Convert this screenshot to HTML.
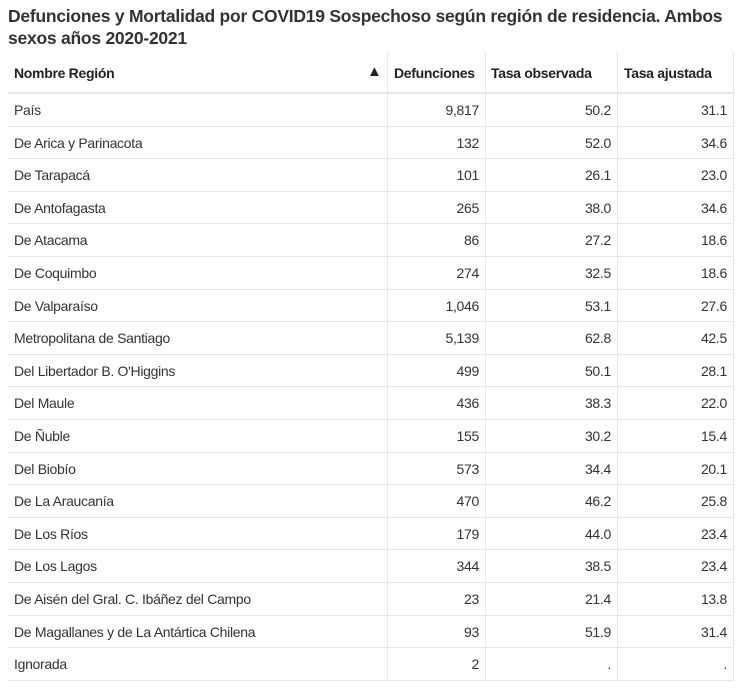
<!DOCTYPE html>
<html><head><meta charset="utf-8"><style>
body{margin:0;width:745px;height:695px;background:#fff;font-family:"Liberation Sans",sans-serif;color:#333;overflow:hidden;position:relative}
.t{position:absolute;left:8px;top:5px;font-size:17.5px;font-weight:bold;line-height:22px;color:#333;letter-spacing:-0.25px;width:730px}
.h,.c{position:absolute;font-size:14px;white-space:nowrap;letter-spacing:-0.3px}
.h{font-weight:bold;color:#222}
.r{text-align:right}
.ln{position:absolute;background:#e6e6e6}
</style></head><body>
<div class="t">Defunciones y Mortalidad por COVID19 Sospechoso según región de residencia. Ambos sexos años 2020-2021</div>
<div id="g"></div>
<script>
var rows=[["País","9,817","50.2","31.1"],["De Arica y Parinacota","132","52.0","34.6"],["De Tarapacá","101","26.1","23.0"],["De Antofagasta","265","38.0","34.6"],["De Atacama","86","27.2","18.6"],["De Coquimbo","274","32.5","18.6"],["De Valparaíso","1,046","53.1","27.6"],["Metropolitana de Santiago","5,139","62.8","42.5"],["Del Libertador B. O'Higgins","499","50.1","28.1"],["Del Maule","436","38.3","22.0"],["De Ñuble","155","30.2","15.4"],["Del Biobío","573","34.4","20.1"],["De La Araucanía","470","46.2","25.8"],["De Los Ríos","179","44.0","23.4"],["De Los Lagos","344","38.5","23.4"],["De Aisén del Gral. C. Ibáñez del Campo","23","21.4","13.8"],["De Magallanes y de La Antártica Chilena","93","51.9","31.4"],["Ignorada","2",".","."]];
var h='';
var top0=93,rh=32.6;
h+='<div class="ln" style="left:8px;top:92px;width:726px;height:2px"></div>';
[387,485,617,733].forEach(function(x){h+='<div class="ln" style="left:'+x+'px;top:52px;width:1px;height:629px"></div>';});
h+='<div class="h" style="left:14px;top:65px">Nombre Región</div>';
h+='<div class="h" style="left:367px;top:63px;font-size:15px">&#9650;</div>';
h+='<div class="h" style="left:394px;top:65px">Defunciones</div>';
h+='<div class="h" style="left:491px;top:65px">Tasa observada</div>';
h+='<div class="h" style="left:624px;top:65px">Tasa ajustada</div>';
rows.forEach(function(r,i){
 var y=top0+i*rh;
 h+='<div class="ln" style="left:8px;top:'+(y+rh).toFixed(1)+'px;width:726px;height:1px"></div>';
 var ty=(y+9).toFixed(1);
 h+='<div class="c" style="left:14px;top:'+ty+'px">'+r[0]+'</div>';
 h+='<div class="c r" style="right:'+(745-479)+'px;top:'+ty+'px">'+r[1]+'</div>';
 h+='<div class="c r" style="right:'+(745-611)+'px;top:'+ty+'px">'+r[2]+'</div>';
 h+='<div class="c r" style="right:'+(745-727)+'px;top:'+ty+'px">'+r[3]+'</div>';
});
document.getElementById('g').innerHTML=h;
</script>
</body></html>
